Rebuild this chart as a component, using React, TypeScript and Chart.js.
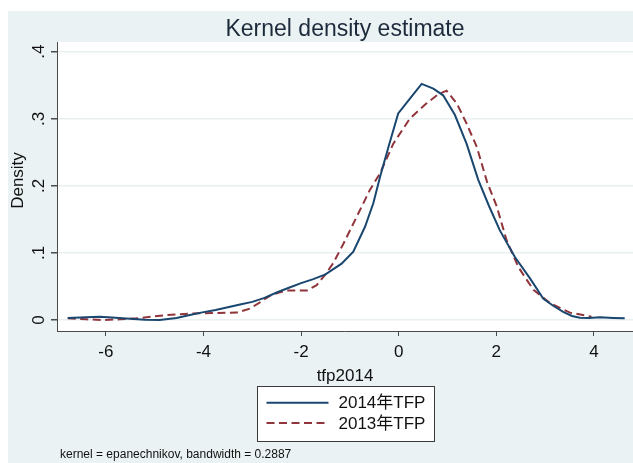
import React, { useEffect, useRef } from "react";
import { Chart, registerables } from "chart.js";

Chart.register(...registerables);

// ---- data ----
const tfp2014X = [
  -6.78, -6.4, -6.12, -5.8, -5.5, -5.2, -4.9, -4.55, -4.3, -4.05, -3.75, -3.5, -3.25, -3.0,
  -2.75, -2.5, -2.25, -2.0, -1.75, -1.5, -1.17, -0.93, -0.69, -0.52, -0.38, -0.21, -0.01,
  0.23, 0.47, 0.71, 0.91, 1.15, 1.39, 1.63, 1.85, 2.07, 2.38, 2.69, 2.96, 3.15, 3.37, 3.55,
  3.71, 3.9, 4.12, 4.4, 4.63,
];
const density2014 = [
  0.003, 0.004, 0.005, 0.0035, 0.002, 0.0005, 0.0, 0.003, 0.007, 0.011, 0.015, 0.019, 0.023,
  0.027, 0.033, 0.041, 0.048, 0.055, 0.061, 0.068, 0.084, 0.102, 0.139, 0.174, 0.214, 0.258,
  0.308, 0.33, 0.352, 0.345, 0.335, 0.306, 0.263, 0.209, 0.17, 0.134, 0.094, 0.062, 0.032,
  0.022, 0.012, 0.006, 0.0035, 0.003, 0.004, 0.003, 0.0025,
];
const tfp2013X = [
  -6.78, -6.4, -6.05, -5.7, -5.37, -5.05, -4.75, -4.4, -4.07, -3.7, -3.32, -3.05, -2.85, -2.64,
  -2.45, -2.29, -2.05, -1.88, -1.68, -1.5, -1.34, -1.13, -0.86, -0.59, -0.38, -0.11, 0.23,
  0.57, 0.8, 0.98, 1.19, 1.39, 1.6, 1.81, 2.01, 2.21, 2.45, 2.76, 3.1, 3.51, 3.95,
];
const density2013 = [
  0.0025, 0.001, 0.0, 0.001, 0.0025, 0.005, 0.0075, 0.009, 0.01, 0.0105, 0.011, 0.017, 0.026,
  0.036, 0.041, 0.044, 0.044, 0.044, 0.052, 0.068, 0.085, 0.114, 0.154, 0.194, 0.219, 0.263,
  0.3005, 0.323, 0.336, 0.342, 0.323, 0.293, 0.258, 0.206, 0.169, 0.119, 0.079, 0.045, 0.025,
  0.011, 0.005,
];

const xTicks = [-6, -4, -2, 0, 2, 4];
const xTickLabels = ["-6", "-4", "-2", "0", "2", "4"];
const yTicks = [0, 0.1, 0.2, 0.3, 0.4];
const yTickLabels = ["0", ".1", ".2", ".3", ".4"];
const seriesLabels = ["2014年TFP", "2013年TFP"];
const chartTitle = "Kernel density estimate";
const xTitle = "tfp2014";
const yTitle = "Density";
const noteText = "kernel = epanechnikov, bandwidth = 0.2887";

// ---- styles ----
const BG = "rgb(234,242,243)";
const GRID = "rgb(232,240,242)";
const AXIS = "#4a4a4a";
const NAVY = "rgb(26,71,111)";
const MAROON = "rgb(144,53,59)";
const TEXT = "#111";
const FONT = "'Liberation Sans', Arial, 'Noto Sans CJK SC', sans-serif";
const DASH = [8, 4.5];

const W = 625;
const H = 452;

const toPts = (xs: number[], ys: number[]) => xs.map((x, i) => ({ x, y: ys[i] }));

const decorPlugin = {
  id: "decor",
  beforeDraw(chart: any) {
    const { ctx, chartArea } = chart;
    ctx.save();
    ctx.fillStyle = BG;
    ctx.fillRect(0, 0, chart.width, chart.height);
    ctx.fillStyle = "#ffffff";
    ctx.fillRect(chartArea.left, chartArea.top, chartArea.right - chartArea.left, chartArea.bottom - chartArea.top);
    ctx.restore();
  },
  afterDraw(chart: any) {
    const { ctx, chartArea, scales } = chart;
    const cx = (chartArea.left + chartArea.right) / 2;
    ctx.save();
    // title
    ctx.font = `23px ${FONT}`;
    ctx.fillStyle = "#1c2a3c";
    ctx.textAlign = "center";
    ctx.textBaseline = "alphabetic";
    ctx.fillText(chartTitle, cx, 25);
    ctx.fillStyle = TEXT;
    // x tick labels
    ctx.font = `17px ${FONT}`;
    xTicks.forEach((v, i) => {
      const px = scales.x.getPixelForValue(v);
      ctx.fillText(xTickLabels[i], px, 346);
    });
    // x title
    ctx.fillText(xTitle, cx, 369.5);
    // y tick labels (rotated)
    yTicks.forEach((v, i) => {
      const py = scales.y.getPixelForValue(v);
      ctx.save();
      ctx.translate(35.5, py);
      ctx.rotate(-Math.PI / 2);
      ctx.textAlign = "center";
      ctx.fillText(yTickLabels[i], 0, 0);
      ctx.restore();
    });
    // y title
    ctx.save();
    ctx.translate(14.5, 169.5);
    ctx.rotate(-Math.PI / 2);
    ctx.textAlign = "center";
    ctx.fillText(yTitle, 0, 0);
    ctx.restore();
    // legend
    const bw = 177;
    const bx = Math.round(cx - bw / 2) + 0.5;
    const by = 375.5;
    const bh = 55;
    ctx.fillStyle = "#ffffff";
    ctx.fillRect(bx, by, bw, bh);
    ctx.strokeStyle = "#3a3a3a";
    ctx.lineWidth = 1;
    ctx.strokeRect(bx, by, bw, bh);
    const rows = [
      { y: 391.7, color: NAVY, dash: [] as number[] },
      { y: 412, color: MAROON, dash: DASH },
    ];
    rows.forEach((r, i) => {
      ctx.beginPath();
      ctx.setLineDash(r.dash);
      ctx.strokeStyle = r.color;
      ctx.lineWidth = 2;
      ctx.moveTo(bx + 9, r.y);
      ctx.lineTo(bx + 71, r.y);
      ctx.stroke();
      ctx.setLineDash([]);
      ctx.fillStyle = TEXT;
      ctx.font = `17px ${FONT}`;
      ctx.textAlign = "left";
      ctx.textBaseline = "middle";
      ctx.fillText(seriesLabels[i], bx + 81, r.y + 1);
    });
    // note
    ctx.font = `12px ${FONT}`;
    ctx.textAlign = "left";
    ctx.textBaseline = "alphabetic";
    ctx.fillStyle = TEXT;
    ctx.fillText(noteText, 52, 447);
    ctx.restore();
  },
};

export default function App() {
  const ref = useRef<HTMLCanvasElement | null>(null);
  useEffect(() => {
    if (!ref.current) return;
    const chart = new Chart(ref.current, {
      type: "scatter",
      data: {
        datasets: [
          {
            label: seriesLabels[0],
            data: toPts(tfp2014X, density2014),
            showLine: true,
            borderColor: NAVY,
            backgroundColor: NAVY,
            borderWidth: 2,
            pointRadius: 0,
            tension: 0,
          },
          {
            label: seriesLabels[1],
            data: toPts(tfp2013X, density2013),
            showLine: true,
            borderColor: MAROON,
            backgroundColor: MAROON,
            borderWidth: 2,
            borderDash: DASH,
            pointRadius: 0,
            tension: 0,
          },
        ],
      },
      options: {
        responsive: false,
        animation: false,
        devicePixelRatio: 1,
        layout: { padding: { top: 31, left: 0, right: 0, bottom: 0 } },
        plugins: {
          legend: { display: false },
          title: { display: false },
          tooltip: { enabled: false },
        },
        scales: {
          x: {
            type: "linear",
            min: -7.0,
            max: 4.8,
            afterBuildTicks: (s: any) => {
              s.ticks = xTicks.map((v) => ({ value: v }));
            },
            afterFit: (s: any) => {
              s.height = H - 320;
            },
            ticks: { display: false },
            grid: {
              drawOnChartArea: false,
              drawTicks: true,
              tickLength: 5,
              tickColor: AXIS,
              color: AXIS,
            },
            border: { display: true, color: AXIS, width: 1 },
          },
          y: {
            type: "linear",
            min: -0.0164,
            max: 0.4145,
            afterBuildTicks: (s: any) => {
              s.ticks = yTicks.map((v) => ({ value: v }));
            },
            afterFit: (s: any) => {
              s.width = 49;
            },
            ticks: { display: false },
            grid: {
              drawOnChartArea: true,
              drawTicks: true,
              tickLength: 6,
              tickColor: AXIS,
              color: GRID,
              lineWidth: 1.5,
            },
            border: { display: true, color: AXIS, width: 1 },
          },
        },
      },
      plugins: [decorPlugin],
    } as any);
    return () => chart.destroy();
  }, []);
  return (
    <div style={{ position: "fixed", left: 0, top: 0, width: 633, height: 463, background: "#fff", overflow: "hidden" }}>
      <canvas ref={ref} width={W} height={H} style={{ position: "absolute", left: 8, top: 11, width: W, height: H }} />
    </div>
  );
}
